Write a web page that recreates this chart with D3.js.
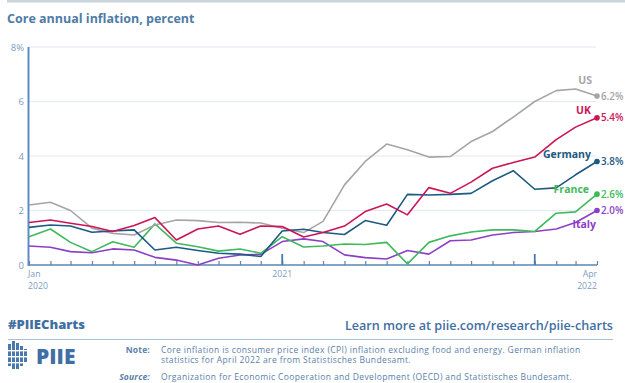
<!DOCTYPE html>
<html>
<head>
<meta charset="utf-8">
<script src="https://cdn.jsdelivr.net/npm/d3@7"></script>
<style>
  html, body { margin: 0; padding: 0; background: #fff; }
  svg { display: block; font-family: "Open Sans", sans-serif; }
</style>
</head>
<body>
<div id="chart"></div>
<script>
// monthly core inflation, Jan 2020 - Apr 2022
var months = ["2020-01","2020-02","2020-03","2020-04","2020-05","2020-06","2020-07","2020-08","2020-09","2020-10","2020-11","2020-12",
              "2021-01","2021-02","2021-03","2021-04","2021-05","2021-06","2021-07","2021-08","2021-09","2021-10","2021-11","2021-12",
              "2022-01","2022-02","2022-03","2022-04"];
var us      = [2.2,2.3,2.0,1.35,1.16,1.1,1.47,1.65,1.63,1.56,1.57,1.54, 1.35,1.19,1.6,2.94,3.8,4.44,4.23,3.96,3.98,4.53,4.9,5.43, 6.0,6.4,6.46,6.2];
var uk      = [1.56,1.65,1.53,1.41,1.23,1.45,1.74,0.92,1.32,1.43,1.13,1.43, 1.41,1.03,1.19,1.43,1.96,2.24,1.84,2.84,2.63,3.04,3.55,3.76, 3.96,4.6,5.06,5.4];
var germany = [1.38,1.47,1.43,1.2,1.25,1.29,0.55,0.65,0.53,0.43,0.4,0.31, 1.25,1.31,1.19,1.12,1.63,1.46,2.59,2.57,2.59,2.63,3.09,3.46, 2.78,2.83,3.31,3.8];
var france  = [1.04,1.32,0.83,0.49,0.85,0.65,1.51,0.8,0.67,0.51,0.59,0.43, 1.04,0.66,0.7,0.77,0.75,0.83,0.04,0.83,1.07,1.21,1.29,1.29, 1.23,1.9,1.95,2.6];
var italy   = [0.7,0.65,0.49,0.45,0.59,0.55,0.28,0.18,0.0,0.25,0.37,0.39, 0.86,0.96,0.86,0.37,0.27,0.22,0.53,0.4,0.89,0.92,1.1,1.19, 1.23,1.32,1.56,2.0];
var seriesNames = ["US","UK","Germany","France","Italy"];
var seriesColors = ["#a5a5a5","#cc1457","#1d5a82","#3dba5c","#8c3fc6"];
var yTicks = [0,2,4,6,8];

var W = 625, H = 383;
var svg = d3.select("#chart").append("svg").attr("width", W).attr("height", H);
var parse = d3.utcParse("%Y-%m");
var dates = months.map(parse);

var x = d3.scaleUtc().domain([dates[0], dates[dates.length-1]]).range([29, 597]);
var y = d3.scaleLinear().domain([0, 8]).range([265, 47]);

// top band
svg.append("rect").attr("x", 7).attr("y", 0).attr("width", W - 7).attr("height", 2.5).attr("fill", "#c9d3dd");

svg.append("text").attr("x", 7).attr("y", 23)
  .attr("fill", "#4f7ba6").attr("font-size", 12.5).attr("font-weight", 700)
  .text("Core annual inflation, percent");

// gridlines
svg.append("g").selectAll("line").data(yTicks.filter(function(d){ return d > 0; })).enter().append("line")
  .attr("x1", 29).attr("x2", 596)
  .attr("y1", function(d){ return y(d); }).attr("y2", function(d){ return y(d); })
  .attr("stroke", "#e1e9f2").attr("stroke-width", 1);

// y labels
svg.append("g").selectAll("text").data(yTicks).enter().append("text")
  .attr("x", 24).attr("y", function(d){ return y(d) + 3.5; })
  .attr("text-anchor", "end").attr("font-size", 9.5).attr("fill", "#7d9cc0")
  .text(function(d){ return d === 8 ? "8%" : d; });

// y axis line
svg.append("line").attr("x1", 28.5).attr("x2", 28.5).attr("y1", y(8)).attr("y2", y(0) + 1)
  .attr("stroke", "#5d8cc0").attr("stroke-width", 2);

// x axis: monthly ticks going up
var xAxis = d3.axisBottom(x).tickValues(dates).tickSize(-4).tickFormat("");
var gx = svg.append("g").attr("transform", "translate(0," + y(0) + ")").call(xAxis);
gx.select(".domain").attr("stroke", "#5a85b5").attr("stroke-width", 1.5).attr("d", "M29,0H597");
gx.selectAll(".tick line").attr("stroke", "#5a85b5").attr("stroke-width", 1.2);
var yearTicks = [parse("2021-01"), parse("2022-01")];
svg.append("g").selectAll("line").data(yearTicks).enter().append("line")
  .attr("x1", function(d){ return x(d); }).attr("x2", function(d){ return x(d); })
  .attr("y1", y(0) - 11).attr("y2", y(0))
  .attr("stroke", "#4a78ac").attr("stroke-width", 1.8);

var xl = svg.append("g").attr("font-size", 8.7).attr("fill", "#7d9cc0");
xl.append("text").attr("x", x(dates[0]) - 1).attr("y", 277).text("Jan");
xl.append("text").attr("x", x(dates[0]) - 1).attr("y", 289).text("2020");
xl.append("text").attr("x", x(yearTicks[0])).attr("y", 277).attr("text-anchor", "middle").text("2021");
xl.append("text").attr("x", x(dates[dates.length-1])).attr("y", 277).attr("text-anchor", "end").text("Apr");
xl.append("text").attr("x", x(dates[dates.length-1])).attr("y", 289).attr("text-anchor", "end").text("2022");

// lines
var allSeries = [us, uk, germany, france, italy];
var line = d3.line().x(function(d, i){ return x(dates[i]); }).y(function(d){ return y(d); });
var order = [4, 3, 0, 2, 1];
order.forEach(function(k){
  svg.append("path").datum(allSeries[k])
    .attr("d", line).attr("fill", "none")
    .attr("stroke", seriesColors[k]).attr("stroke-width", 1.6)
    .attr("stroke-linejoin", "round");
});

// end dots and labels
var last = dates.length - 1;
var nameOffsets = [[-5, -12], [-6, -4], [-6, -3], [-8, -1], [-1, 17]];
allSeries.forEach(function(s, k){
  var cx = x(dates[last]), cy = y(s[last]);
  svg.append("circle").attr("cx", cx).attr("cy", cy).attr("r", 2.8).attr("fill", seriesColors[k]);
  svg.append("text").attr("x", cx + 4).attr("y", cy + 3.5)
    .attr("font-size", 9.8).attr("font-weight", 600).attr("fill", seriesColors[k])
    .text(d3.format(".1f")(s[last]) + "%");
  svg.append("text").attr("x", cx + nameOffsets[k][0]).attr("y", cy + nameOffsets[k][1])
    .attr("text-anchor", "end").attr("font-size", 10.5).attr("font-weight", 700).attr("fill", seriesColors[k])
    .text(seriesNames[k]);
});

// footer
svg.append("text").attr("x", 8).attr("y", 329).attr("font-size", 13).attr("font-weight", 800)
  .attr("fill", "#3f6fa3").text("#PIIECharts");
svg.append("text").attr("x", 613).attr("y", 330).attr("text-anchor", "end").attr("font-size", 12.6).attr("font-weight", 600)
  .attr("fill", "#3f6fa3").text("Learn more at piie.com/research/piie-charts");
svg.append("line").attr("x1", 8).attr("x2", 613).attr("y1", 339.5).attr("y2", 339.5).attr("stroke", "#a9c0d9").attr("stroke-width", 1);

// logo
var logo = svg.append("g").attr("fill", "#4a78ac");
[[8,344,3,22],[12,341,3,28],[16,343,3,26],[20,346,3,20],[24,349,3,14]].forEach(function(r){
  logo.append("rect").attr("x", r[0]).attr("y", r[1]).attr("width", r[2]).attr("height", r[3]);
});
[350,356,362].forEach(function(yy){
  logo.append("rect").attr("x", 7).attr("y", yy).attr("width", 22).attr("height", 1.4).attr("fill", "#fff");
});
svg.append("text").attr("x", 36).attr("y", 364).attr("font-size", 21).attr("font-weight", 800)
  .attr("fill", "#3f6fa3").text("PIIE");

var notes = svg.append("g").attr("font-size", 8.5).attr("letter-spacing", 0.37).attr("fill", "#5b80aa");
notes.append("text").attr("x", 150).attr("y", 353).attr("text-anchor", "end").attr("font-weight", 700).attr("letter-spacing", 0.2).text("Note:");
notes.append("text").attr("x", 161).attr("y", 353).text("Core inflation is consumer price index (CPI) inflation excluding food and energy. German inflation");
notes.append("text").attr("x", 161).attr("y", 363).text("statistics for April 2022 are from Statistisches Bundesamt.");
notes.append("text").attr("x", 150).attr("y", 380).attr("text-anchor", "end").attr("font-weight", 700).attr("font-style", "italic").attr("letter-spacing", 0.2).text("Source:");
notes.append("text").attr("x", 161).attr("y", 380).text("Organization for Economic Cooperation and Development (OECD) and Statistisches Bundesamt.");
</script>
</body>
</html>
